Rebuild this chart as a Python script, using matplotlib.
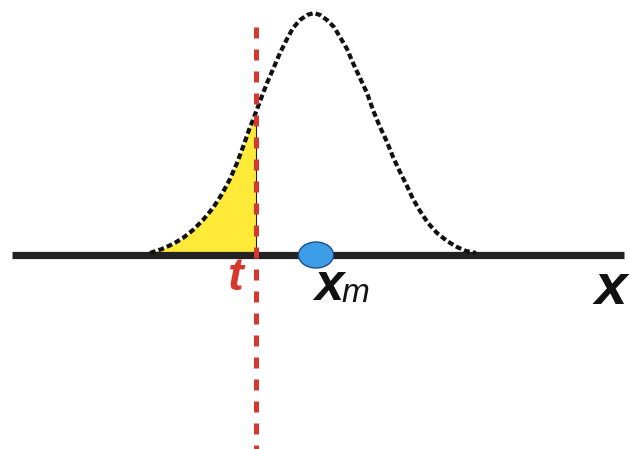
import numpy as np
import matplotlib.pyplot as plt
from matplotlib.patches import Ellipse

# bell curve (pixel coords, y grows downward)
curve_x = [150, 162, 173, 183, 193, 203, 213, 222, 230, 237, 243, 249, 256,
           262, 267, 274, 280, 287, 293, 300, 307, 314, 320, 327, 334, 340,
           347, 353, 360, 367, 373, 380, 387, 393, 400, 407, 413, 420, 428,
           437, 447, 457, 466, 476]
curve_y = [253, 249, 244, 238, 230, 220, 208, 194, 179, 163, 147, 130, 112,
           96, 83, 67, 53, 39, 28, 20, 15, 13, 15, 20, 27, 37,
           49, 63, 78, 93, 110, 127, 142, 157, 172, 186, 199, 211, 223,
           233, 241, 247, 251, 253]

baseline_y = 255
axis_start, axis_end = 12, 624
t_pos = 256
xm_pos = 316
cut_top = 27

fig = plt.figure(figsize=(6.3, 4.49), dpi=100)
ax = fig.add_axes([0, 0, 1, 1])
ax.set_xlim(0, 630)
ax.set_ylim(449, 0)
ax.axis('off')

cx = np.array(curve_x)
cy = np.array(curve_y)
left = cx <= t_pos
ax.fill_between(cx[left], cy[left], baseline_y, color='#ffea3a', lw=0, zorder=1)
ax.plot([t_pos, t_pos], [cy[left][-1], baseline_y], color='#222222', lw=0.8, zorder=2)

ax.plot([axis_start, axis_end], [baseline_y, baseline_y], color='#222222', lw=5.2,
        solid_capstyle='butt', zorder=3)
ax.plot(cx, cy, color='#111111', lw=3.0, ls=(0, (1.4, 0.75)), zorder=4)

ax.plot([t_pos, t_pos], [cut_top, 460], color='#d6382f', lw=3.6,
        ls=(0, (2.2, 2.2)), zorder=5)

ax.add_patch(Ellipse((xm_pos, baseline_y), 35, 26, facecolor='#3d9de6',
                     edgecolor='#1f4f8a', lw=1.0, zorder=6))

ax.text(235, 278, 't', color='#d6382f', fontsize=34, fontstyle='italic',
        fontweight='bold', family='Liberation Sans', ha='center', va='center')
ax.text(329, 286, 'x', color='#111111', fontsize=38, fontstyle='italic',
        fontweight='bold', family='Liberation Sans', ha='center', va='center')
ax.text(355, 294, 'm', color='#111111', fontsize=24, fontstyle='italic',
        family='Liberation Sans', ha='center', va='center')
ax.text(611, 289, 'x', color='#111111', fontsize=42, fontstyle='italic',
        fontweight='bold', family='Liberation Sans', ha='center', va='center')

fig.savefig('out.png', dpi=100)
